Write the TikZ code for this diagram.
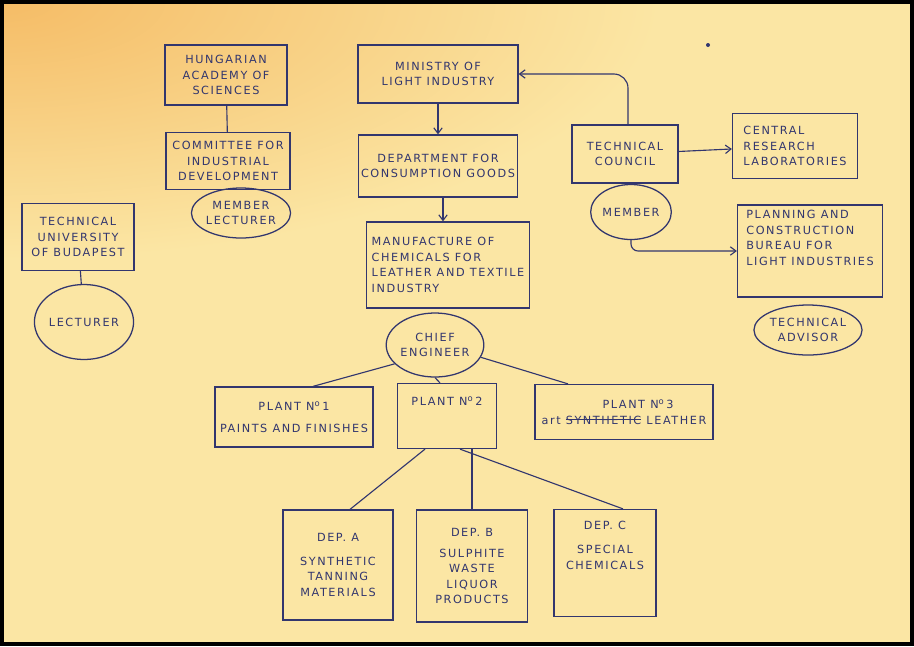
\documentclass[tikz,border=0pt]{standalone}
\usepackage{fontspec}
\usetikzlibrary{shapes.geometric,arrows.meta}
\newfontfamily\handfont{DejaVu Sans}[LetterSpace=14.0]
\definecolor{ink}{RGB}{50,54,110}
\definecolor{paper}{RGB}{251,230,164}
\definecolor{stain}{RGB}{245,188,102}
\newcommand{\pxu}{0.025cm}
\newcommand{\strikeword}[1]{\setbox0\hbox{#1}\rlap{\rule[2.6pt]{\wd0}{0.7pt}}\box0{}}
\begin{document}
\begin{tikzpicture}
[
x=0.025cm, y=-0.025cm,
every node/.style={font=\handfont\fontsize{8}{11}\selectfont, text=ink},
Dim/.style 2 args={minimum width=#1*\pxu, minimum height=#2*\pxu},
OrgBox/.style={rectangle, draw=ink, line width=0.9pt, inner sep=2pt, align=center},
RoleCircle/.style={ellipse, draw=ink, line width=0.9pt, inner sep=0pt, align=center},
Link/.style={-, draw=ink, line width=0.8pt},
ArrowLink/.style={-{Straight Barb[length=4pt,width=6pt]}, draw=ink, line width=0.8pt},
]

\useasboundingbox (0,0) rectangle (914,646);

% paper and stain
\fill[paper] (0,0) rectangle (914,646);
\begin{scope}
\clip (0,0) rectangle (914,646);
\shade[inner color=stain, outer color=paper] (0,0) ellipse (660 and 260);
\end{scope}
\draw[black, line width=4*\pxu] (2,2) rectangle (912,644);
\fill[ink] (708,45) circle (2);

% academy side
\node[OrgBox, Dim={122}{60}] (academy) at (226,75) {HUNGARIAN\\ACADEMY OF\\SCIENCES};
\node[OrgBox, Dim={124}{57}] (committee) at (228,161) {COMMITTEE FOR\\INDUSTRIAL\\DEVELOPMENT};
\node[RoleCircle, Dim={72}{50}] (memberlect) at (241,213) {MEMBER\\LECTURER};

\node[OrgBox, Dim={112}{67}] (university) at (78,237) {TECHNICAL\\UNIVERSITY\\OF BUDAPEST};
\node[RoleCircle, Dim={77}{75}] (lecturer) at (84,322) {LECTURER};

% ministry line
\node[OrgBox, Dim={160}{58}] (ministry) at (438,74) {MINISTRY OF\\LIGHT INDUSTRY};
\node[OrgBox, Dim={153}{62}] (department) at (438,166) {DEPARTMENT FOR\\CONSUMPTION GOODS};
\node[OrgBox, Dim={163}{86}, align=left] (manufacture) at (448,265) {MANUFACTURE OF\\CHEMICALS FOR\\LEATHER AND TEXTILE\\INDUSTRY};
\node[RoleCircle, Dim={94}{64}] (chief) at (435,345) {CHIEF\\ENGINEER};

% plants
\node[OrgBox, Dim={158}{60}] (plantA) at (294,417) {PLANT N\textsuperscript{o}\,1\\[5pt]PAINTS AND FINISHES};
\node[OrgBox, Dim={99}{65}] (plantB) at (447,416) {PLANT N\textsuperscript{o}\,2\\[10pt]\mbox{}};
\node[OrgBox, Dim={178}{55}] (plantC) at (624,412) {\hspace{20pt}PLANT N\textsuperscript{o}\,3\\art \strikeword{SYNTHETIC} LEATHER};

% departments
\node[OrgBox, Dim={110}{110}] (depA) at (338,565) {DEP. A\\[6pt]SYNTHETIC\\TANNING\\MATERIALS};
\node[OrgBox, Dim={111}{112}] (depB) at (472,566) {DEP. B\\[4pt]SULPHITE\\WASTE\\LIQUOR\\PRODUCTS};
\node[OrgBox, Dim={102}{107}] (depC) at (605,563) {DEP. C\\[6pt]SPECIAL\\CHEMICALS\\[14pt]\mbox{}};

% council side
\node[OrgBox, Dim={106}{58}] (council) at (625,154) {TECHNICAL\\COUNCIL};
\node[RoleCircle, Dim={73}{55}] (member) at (631,212) {MEMBER};
\node[OrgBox, Dim={125}{65}, align=left] (research) at (795,146) {CENTRAL\\RESEARCH\\LABORATORIES};
\node[OrgBox, Dim={145}{92}, align=left] (planning) at (810,251) {PLANNING AND\\CONSTRUCTION\\BUREAU FOR\\LIGHT INDUSTRIES\\[8pt]\mbox{}};
\node[RoleCircle, Dim={100}{50}] (advisor) at (808,330) {TECHNICAL\\ADVISOR};

% connectors
\draw[Link] (academy) -- (committee);
\draw[Link] (university) -- (lecturer);

\draw[ArrowLink] (ministry) -- (department);
\draw[ArrowLink] ([xshift=5*\pxu]department.south) -- ([xshift=5*\pxu]department.south |- manufacture.north);

\draw[Link] (chief.205) -- ([xshift=19*\pxu]plantA.north);
\draw[Link] (chief.south) -- ([xshift=-7*\pxu]plantB.north);
\draw[Link] (chief.-15) -- ([xshift=-56*\pxu]plantC.north);

\draw[Link] ([xshift=-22*\pxu]plantB.south) -- ([xshift=12*\pxu]depA.north);
\draw[Link] (depB.north |- plantB.south) -- (depB.north);
\draw[Link] ([xshift=13*\pxu]plantB.south) -- ([xshift=18*\pxu]depC.north);

\draw[ArrowLink, rounded corners=10pt] ([xshift=3*\pxu]council.north) |- (ministry.east);
\draw[ArrowLink] (council) -- (research);
\draw[ArrowLink, rounded corners=5pt] (member.south) |- (planning.west);

\end{tikzpicture}
\end{document}
